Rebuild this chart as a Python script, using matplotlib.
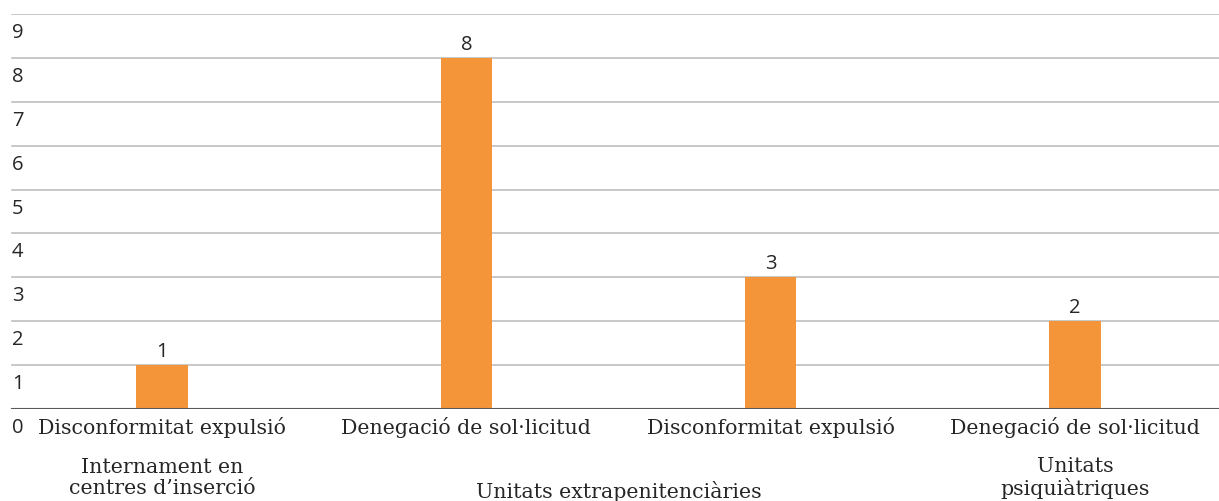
import matplotlib
matplotlib.use("Agg")
import matplotlib.pyplot as plt
from matplotlib import transforms

# data
categories = ["Disconformitat expulsió", "Denegació de sol·licitud",
              "Disconformitat expulsió", "Denegació de sol·licitud"]
values = [1, 8, 3, 2]
groups = ["Internament en\ncentres d’inserció", "Unitats extrapenitenciàries",
          "Unitats\npsiquiàtriques"]
group_pos = [0, 1.5, 3]
yticks = list(range(0, 10))

orange = "#f5953a"
serif = ["DejaVu Serif"]
sans = ["Open Sans", "DejaVu Sans"]

fig = plt.figure(figsize=(12.19, 5.02), dpi=100)
# the category axis runs a bit past the right edge, like the original
ax = fig.add_axes([10/1219, 1 - 410/502, 1217/1219, (410 - 15)/502])

x = list(range(len(values)))
ax.bar(x, values, width=0.17, color=orange, zorder=3)
ax.set_xlim(-0.5, len(values) - 0.5)
ax.set_ylim(0, 9)

for v in yticks[1:]:
    ax.axhline(v, xmin=2/1217, color="#bfbfbf", lw=1.2, zorder=1)
ax.axhline(0, xmin=2/1217, color="#595959", lw=1.5, zorder=4)

for s in ax.spines.values():
    s.set_visible(False)
ax.set_xticks([])
ax.set_yticks([])

# y labels sit half a step under their gridlines
ytr = transforms.offset_copy(ax.get_yaxis_transform(), fig=fig, x=2, y=-18, units="dots")
for v in yticks:
    ax.text(0, v, str(v), transform=ytr, ha="left", va="center",
            fontsize=14.5, family=sans, color="#262626")

for xi, v in zip(x, values):
    ax.annotate(str(v), (xi, v), xytext=(0, 14), textcoords="offset pixels",
                ha="center", va="center", fontsize=14.5, family=sans, color="#262626")

ctr = transforms.offset_copy(ax.get_xaxis_transform(), fig=fig, x=0, y=-18, units="dots")
for xi, c in zip(x, categories):
    ax.text(xi, 0, c, transform=ctr, ha="center", va="center",
            fontsize=14.8, family=serif, color="#262626")

for gp, g in zip(group_pos, groups):
    dy = -68 if "\n" in g else -81
    gtr = transforms.offset_copy(ax.get_xaxis_transform(), fig=fig, x=0, y=dy, units="dots")
    ax.text(gp, 0, g, transform=gtr, ha="center", va="center",
            fontsize=14.8, family=serif, color="#262626", linespacing=1.08,
            multialignment="center")

fig.savefig("out.png", dpi=100)
